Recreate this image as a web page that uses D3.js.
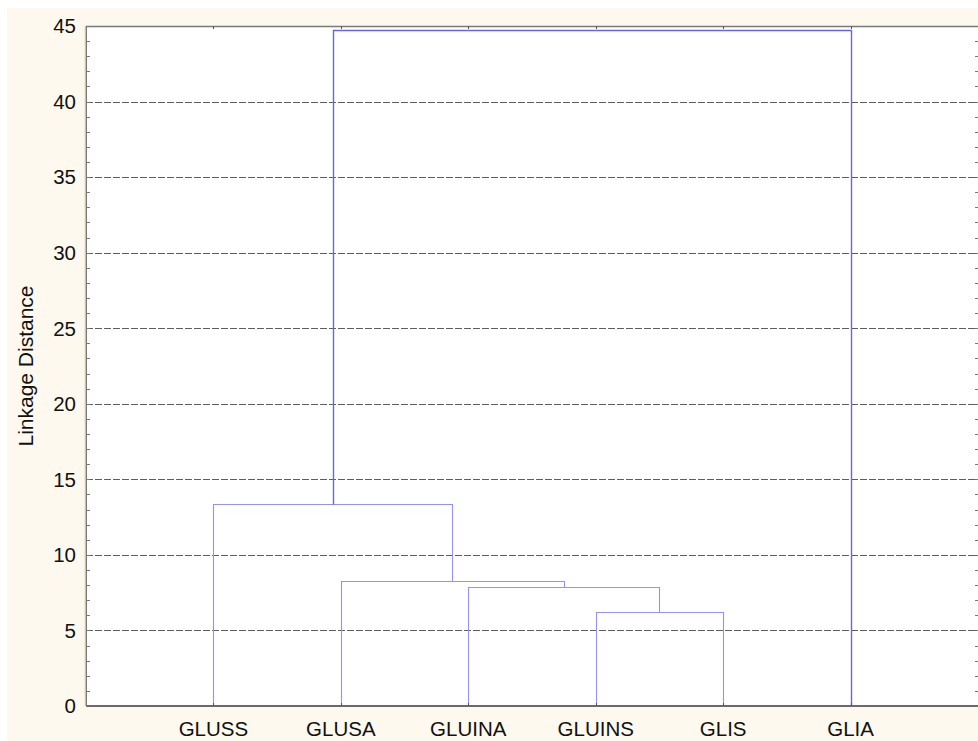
<!DOCTYPE html>
<html>
<head>
<meta charset="utf-8">
<script src="https://cdn.jsdelivr.net/npm/d3@7"></script>
<style>
  body { margin: 0; background: #ffffff; }
  svg { display: block; font-family: "Liberation Sans", Arial, sans-serif; }
</style>
</head>
<body>
<div id="chart"></div>
<script>
// leaves of the dendrogram, left to right
const leaves = ["GLUSS", "GLUSA", "GLUINA", "GLUINS", "GLIS", "GLIA"];

// merges: node ids 0..5 are leaves, each merge creates id 6, 7, ...
const mergeLeft = [3, 2, 1, 0, 9];
const mergeRight = [4, 6, 7, 8, 5];
const mergeHeight = [6.2, 7.9, 8.25, 13.4, 44.75];

const yTicks = [0, 5, 10, 15, 20, 25, 30, 35, 40, 45];
const yTitle = "Linkage Distance";

const W = 978, H = 741;
const margin = { top: 26, right: 0, bottom: 35, left: 86 };

const svg = d3.select("#chart").append("svg")
    .attr("width", W)
    .attr("height", H);

// cream frame + white plot area
svg.append("rect").attr("x", 7).attr("y", 8).attr("width", W - 7).attr("height", H - 8).attr("fill", "#fdf9ee");
svg.append("rect")
    .attr("x", margin.left).attr("y", margin.top)
    .attr("width", W - margin.left - margin.right)
    .attr("height", H - margin.top - margin.bottom)
    .attr("fill", "#ffffff");

const x = d3.scalePoint()
    .domain(leaves)
    .range([margin.left, W - margin.right])
    .padding(1);

const y = d3.scaleLinear()
    .domain([0, 45])
    .range([H - margin.bottom, margin.top]);

// grid lines
svg.append("g")
    .selectAll("line")
    .data(yTicks.filter(d => d > 0 && d < 45))
    .enter().append("line")
    .attr("x1", margin.left).attr("x2", W)
    .attr("y1", d => Math.round(y(d)) + 0.5)
    .attr("y2", d => Math.round(y(d)) + 0.5)
    .attr("stroke", "#5e5e5e")
    .attr("stroke-width", 1)
    .attr("stroke-dasharray", "7,2");

// minor ticks (left inward and right inward)
const minor = d3.range(1, 45);
svg.append("g")
    .selectAll("line")
    .data(minor)
    .enter().append("line")
    .attr("x1", margin.left).attr("x2", margin.left + 4)
    .attr("y1", d => Math.round(y(d)) + 0.5)
    .attr("y2", d => Math.round(y(d)) + 0.5)
    .attr("stroke", "#777");
svg.append("g")
    .selectAll("line")
    .data(minor)
    .enter().append("line")
    .attr("x1", W - 3).attr("x2", W)
    .attr("y1", d => Math.round(y(d)) + 0.5)
    .attr("y2", d => Math.round(y(d)) + 0.5)
    .attr("stroke", "#777");

// build node positions
const nodeX = leaves.map(d => x(d));
const nodeH = leaves.map(() => 0);
const links = [];
mergeLeft.forEach((l, i) => {
    const r = mergeRight[i];
    const h = mergeHeight[i];
    links.push({ l: l, r: r, h: h, top: i === mergeLeft.length - 1 });
    nodeX.push((nodeX[l] + nodeX[r]) / 2);
    nodeH.push(h);
});

const px = v => Math.round(v) + 0.5;
const dendro = svg.append("g").attr("fill", "none");
links.forEach(k => {
    const col = k.top ? "#6666de" : "#9494ec";
    dendro.append("path")
        .attr("d", `M${px(nodeX[k.l])},${px(y(nodeH[k.l]))}V${px(y(k.h))}H${px(nodeX[k.r])}V${px(y(nodeH[k.r]))}`)
        .attr("stroke", col)
        .attr("stroke-width", k.top ? 1.4 : 1.1);
});

// axes frame
const frame = svg.append("g");
frame.append("line").attr("x1", margin.left).attr("x2", W).attr("y1", margin.top + 0.5).attr("y2", margin.top + 0.5)
    .attr("stroke", "#7a7a7a").attr("stroke-width", 1.5);
frame.append("line").attr("x1", margin.left).attr("x2", W).attr("y1", H - margin.bottom).attr("y2", H - margin.bottom)
    .attr("stroke", "#6a6a6a").attr("stroke-width", 2);
frame.append("line").attr("x1", margin.left - 0.5).attr("x2", margin.left - 0.5).attr("y1", margin.top).attr("y2", H - margin.bottom)
    .attr("stroke", "#dcc08a").attr("stroke-width", 1.5);
frame.append("line").attr("x1", margin.left + 0.5).attr("x2", margin.left + 0.5).attr("y1", margin.top).attr("y2", H - margin.bottom + 1)
    .attr("stroke", "#7a7a7a").attr("stroke-width", 1);

// small marks at leaf positions, top and bottom
frame.selectAll(".bt").data(leaves).enter().append("line")
    .attr("x1", d => px(x(d))).attr("x2", d => px(x(d)))
    .attr("y1", H - margin.bottom).attr("y2", H - margin.bottom - 3)
    .attr("stroke", "#555");
frame.selectAll(".tt").data(leaves).enter().append("line")
    .attr("x1", d => px(x(d))).attr("x2", d => px(x(d)))
    .attr("y1", margin.top).attr("y2", margin.top + 3)
    .attr("stroke", "#555");

// y tick labels
svg.append("g")
    .selectAll("text")
    .data(yTicks)
    .enter().append("text")
    .attr("x", 76)
    .attr("y", d => y(d))
    .attr("dy", "0.36em")
    .attr("text-anchor", "end")
    .attr("font-size", 20.5)
    .attr("fill", "#111")
    .text(d => d);

// x labels
svg.append("g")
    .selectAll("text")
    .data(leaves)
    .enter().append("text")
    .attr("x", d => x(d))
    .attr("y", 736)
    .attr("text-anchor", "middle")
    .attr("font-size", 20.5)
    .attr("fill", "#111")
    .text(d => d);

// y title
svg.append("text")
    .attr("transform", "translate(33," + 366 + ") rotate(-90)")
    .attr("text-anchor", "middle")
    .attr("font-size", 21)
    .attr("fill", "#111")
    .text(yTitle);
</script>
</body>
</html>
